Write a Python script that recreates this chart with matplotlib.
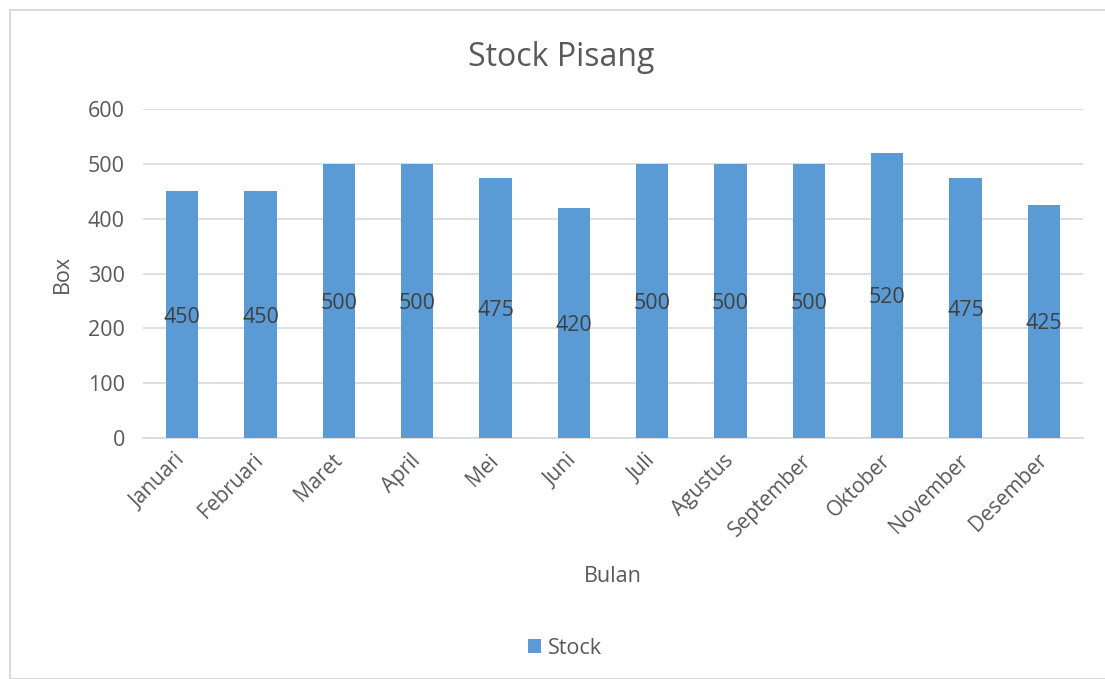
import matplotlib.pyplot as plt
from matplotlib.patches import Rectangle
import numpy as np

bulan = ["Januari", "Februari", "Maret", "April", "Mei", "Juni", "Juli",
         "Agustus", "September", "Oktober", "November", "Desember"]
stock = [450, 450, 500, 500, 475, 420, 500, 500, 500, 520, 475, 425]
yticks = [0, 100, 200, 300, 400, 500, 600]

plt.rcParams["font.family"] = ["Open Sans", "DejaVu Sans"]
text_color = "#595959"
bar_color = "#5B9BD5"

fig = plt.figure(figsize=(11.05, 6.79), dpi=100)
ax = fig.add_axes([143 / 1105, 1 - 438 / 679, 940 / 1105, 329 / 679])

# chart border like the Excel chart area
fig.patches.append(Rectangle((10 / 1105, 0), 1.2, 1 - 10 / 679, transform=fig.transFigure,
                             fill=False, edgecolor="#D9D9D9", linewidth=1.5))

x = np.arange(len(bulan))
bars = ax.bar(x, stock, width=0.41, color=bar_color, label="Stock", zorder=3)

# data labels in bar centre
for xi, v in zip(x, stock):
    ax.text(xi, v / 2, str(v), ha="center", va="center_baseline", fontsize=15.5,
            color="#404040", zorder=4)

ax.set_xlim(-0.5, len(bulan) - 0.5)
ax.set_ylim(0, 600)
ax.set_yticks(yticks)
ax.set_yticklabels([str(t) for t in yticks], fontsize=15.5, color=text_color)
ax.set_xticks(x)
ax.set_xticklabels(bulan, rotation=45, ha="right", va="center",
                   rotation_mode="anchor", fontsize=15, color=text_color)
ax.tick_params(axis="both", length=0)
ax.tick_params(axis="x", pad=14)
ax.tick_params(axis="y", pad=13)

ax.grid(axis="y", color="#D9D9D9", linewidth=1.2, zorder=0)
for s in ["top", "right", "left"]:
    ax.spines[s].set_visible(False)
ax.spines["bottom"].set_color("#D9D9D9")
ax.spines["bottom"].set_linewidth(1.2)

fig.text(561 / 1105, 1 - 57 / 679, "Stock Pisang", fontsize=23,
         color=text_color, ha="center", va="center")
ax.set_xlabel("Bulan", fontsize=15.5, color=text_color)
ax.xaxis.set_label_coords(0.5, -0.39)
ax.set_ylabel("Box", fontsize=15.5, color=text_color)
ax.yaxis.set_label_coords(-0.075, 0.5)

fig.legend(handles=[bars], labels=["Stock"], loc="center",
           bbox_to_anchor=(565 / 1105, 1 - 648 / 679), frameon=False,
           fontsize=15.5, labelcolor=text_color, handlelength=0.6,
           handleheight=0.6, handletextpad=0.3)

fig.savefig("out.png", dpi=100)
